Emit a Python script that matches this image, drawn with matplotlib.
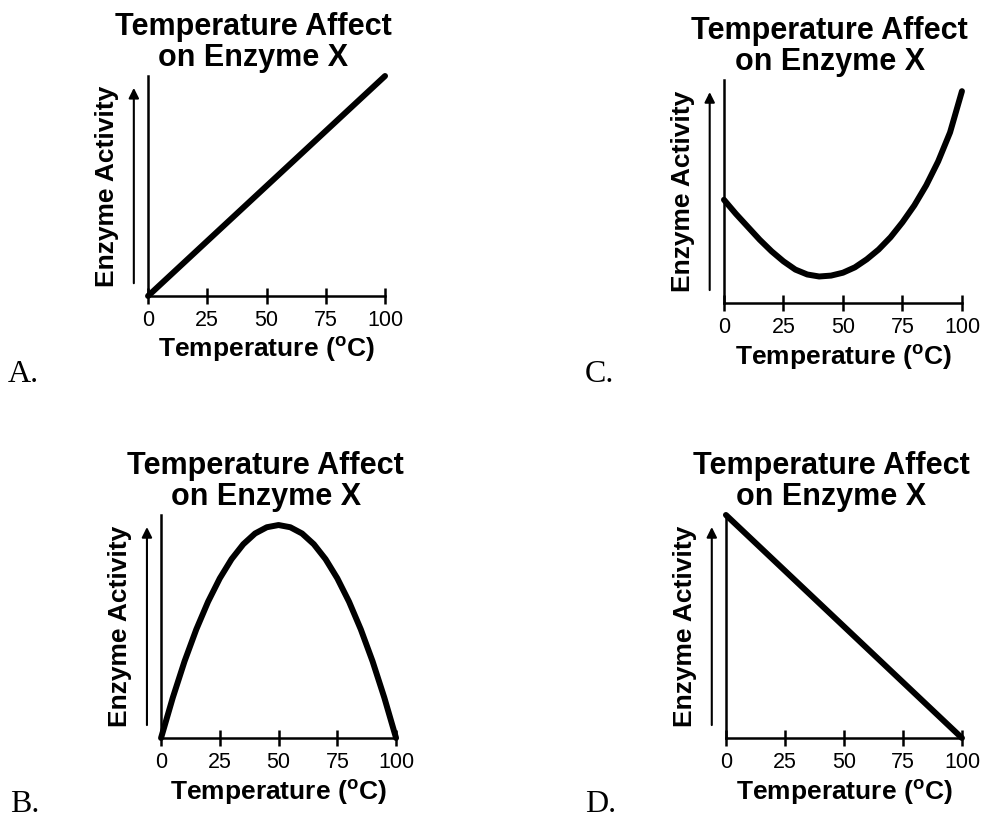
import matplotlib
matplotlib.use('Agg')
import matplotlib.pyplot as plt

plt.rcParams['font.family'] = 'Liberation Sans'
plt.rcParams['mathtext.fontset'] = 'custom'
plt.rcParams['mathtext.rm'] = 'Liberation Sans:bold'

# temperature points (degrees C)
temps = [0, 5, 10, 15, 20, 25, 30, 35, 40, 45, 50, 55, 60, 65, 70, 75, 80, 85, 90, 95, 100]
temps_ends = [0, 100]

# enzyme activity (0 = x axis, 1 = top of y axis)
activity_a = [0.0, 1.0]
activity_b = [0.0, 0.181, 0.344, 0.487, 0.611, 0.716, 0.802, 0.869, 0.917, 0.945, 0.955,
              0.945, 0.917, 0.869, 0.802, 0.716, 0.611, 0.487, 0.344, 0.181, 0.0]
activity_c = [0.463, 0.40, 0.342, 0.284, 0.232, 0.187, 0.150, 0.128, 0.119, 0.123, 0.136,
              0.160, 0.196, 0.240, 0.295, 0.362, 0.438, 0.528, 0.635, 0.765, 0.95]
activity_d = [1.0, 0.0]

tick_vals = [0, 25, 50, 75, 100]
tick_labels = ['0', '25', '50', '75', '100']
title = 'Temperature Affect\non Enzyme X'

fig = plt.figure(figsize=(9.85, 8.19), dpi=100)

panels = [
    # axes rect, x, y, letter, letter position
    ([0.1503, 0.6386, 0.2406, 0.2686], temps_ends, activity_a, 'A.', (0.008, 0.5336)),
    ([0.7350, 0.6300, 0.2416, 0.2723], temps, activity_c, 'C.', (0.594, 0.5336)),
    ([0.1635, 0.0989, 0.2386, 0.2723], temps, activity_b, 'B.', (0.010, 0.008)),
    ([0.7370, 0.0989, 0.2396, 0.2723], temps_ends, activity_d, 'D.', (0.594, 0.008)),
]

for rect, xs, ys, letter, lpos in panels:
    ax = fig.add_axes(rect)
    ax.plot(xs, ys, color='black', lw=4.3, solid_capstyle='round', solid_joinstyle='round',
            clip_on=False)
    ax.set_xlim(0, 100)
    ax.set_ylim(0, 1)
    for side in ['top', 'right']:
        ax.spines[side].set_visible(False)
    for side in ['left', 'bottom']:
        ax.spines[side].set_linewidth(1.8)
    ax.set_yticks([])
    ax.set_xticks(tick_vals)
    ax.set_xticklabels(tick_labels)
    ax.tick_params(axis='x', direction='inout', length=12, width=1.8, labelsize=15.5, pad=4)

    ax.set_xlabel(r'Temperature ($^{\mathrm{o}}$C)', fontsize=19, fontweight='bold', va='center')
    ax.xaxis.set_label_coords(0.5, -0.242)
    ax.set_ylabel('Enzyme Activity', fontsize=19, fontweight='bold', va='center')
    ax.yaxis.set_label_coords(-0.174, 0.5)

    ax.annotate('', xy=(-0.06, 0.946), xytext=(-0.06, 0.058), xycoords='axes fraction',
                arrowprops=dict(arrowstyle='-|>', lw=1.5, color='black',
                                mutation_scale=15, shrinkA=0, shrinkB=0))

    ax.text(0.445, 1.152, title, transform=ax.transAxes, ha='center', va='center',
            fontsize=22, fontweight='bold', linespacing=1.05)

    fig.text(lpos[0], lpos[1], letter, fontsize=23, family='Liberation Serif', va='baseline')

fig.savefig('out.png', dpi=100)
